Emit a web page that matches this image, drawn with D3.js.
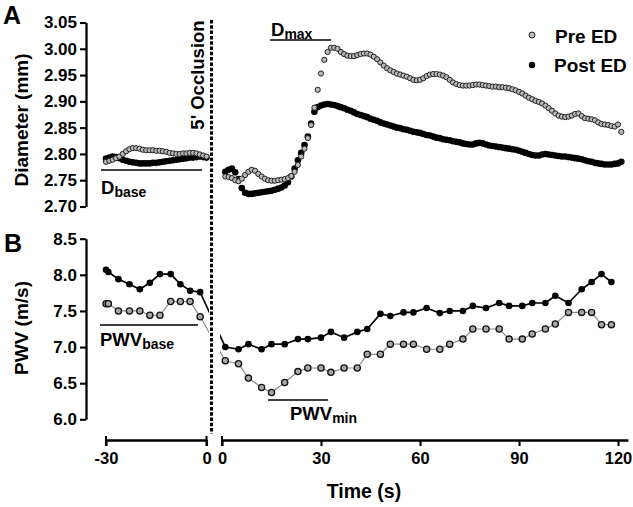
<!DOCTYPE html>
<html><head><meta charset="utf-8">
<script src="https://cdn.jsdelivr.net/npm/d3@7"></script>
<style>
body{margin:0;background:#fff}
svg{display:block}
text{font-family:"Liberation Sans",Arial,Helvetica,sans-serif;font-weight:bold;fill:#000}
</style>
</head><body>
<svg id="chart" width="633" height="507"></svg>
<script>
// ---------------- DATA ----------------
const seriesNames = ["Pre ED", "Post ED"];

// Panel A: arterial diameter (mm), baseline period (s before occlusion release)
const diamTimeBase = [-30,-29,-28,-27,-26,-25,-24,-23,-22,-21,-20,-19,-18,-17,-16,-15,-14,-13,-12,-11,-10,-9,-8,-7,-6,-5,-4,-3,-2,-1,0];
const diamPreBase  = [2.785,2.787,2.789,2.792,2.795,2.800,2.805,2.809,2.811,2.811,2.810,2.808,2.807,2.807,2.807,2.806,2.806,2.805,2.804,2.802,2.801,2.800,2.800,2.801,2.801,2.802,2.802,2.801,2.799,2.797,2.795];
const diamPostBase = [2.791,2.793,2.795,2.794,2.792,2.789,2.787,2.785,2.784,2.783,2.782,2.782,2.782,2.782,2.783,2.783,2.784,2.785,2.786,2.787,2.788,2.789,2.790,2.791,2.792,2.793,2.793,2.794,2.795,2.794,2.793];

// Panel A: diameter after cuff release
const diamTimeCuff = [1,2,3,4,5,6,7,8,9,10,11,12,13,14,15,16,17,18,19,20,21,22,23,24,25,26,27,28,29,30,31,32,33,34,35,36,37,38,39,40,41,42,43,44,45,46,47,48,49,50,51,52,53,54,55,56,57,58,59,60,61,62,63,64,65,66,67,68,69,70,71,72,73,74,75,76,77,78,79,80,81,82,83,84,85,86,87,88,89,90,91,92,93,94,95,96,97,98,99,100,101,102,103,104,105,106,107,108,109,110,111,112,113,114,115,116,117,118,119,120,121];
const diamPreCuff = [2.757,2.756,2.754,2.750,2.748,2.753,2.760,2.766,2.770,2.768,2.762,2.757,2.753,2.750,2.749,2.749,2.750,2.751,2.752,2.754,2.758,2.766,2.779,2.795,2.810,2.830,2.855,2.888,2.922,2.953,
  2.979,2.994,3.002,3.002,3.000,2.994,2.990,2.987,2.986,2.986,2.988,2.990,2.991,2.991,2.989,2.985,2.980,2.974,2.968,2.963,2.959,2.956,2.953,2.951,2.949,2.947,2.944,2.941,2.940,2.941,
  2.944,2.948,2.951,2.952,2.952,2.951,2.949,2.946,2.941,2.936,2.933,2.931,2.930,2.930,2.930,2.931,2.932,2.932,2.931,2.930,2.929,2.928,2.928,2.927,2.927,2.926,2.925,2.923,2.921,2.918,
  2.915,2.911,2.907,2.904,2.901,2.899,2.896,2.892,2.887,2.882,2.877,2.873,2.871,2.870,2.871,2.873,2.876,2.877,2.872,2.868,2.867,2.866,2.864,2.860,2.857,2.856,2.855,2.853,2.852,2.856,2.842];
const diamPostCuff = [2.766,2.770,2.772,2.765,2.752,2.735,2.726,2.724,2.724,2.725,2.726,2.727,2.728,2.729,2.730,2.732,2.734,2.736,2.740,2.746,2.757,2.772,2.788,2.802,2.817,2.833,2.858,2.880,2.889,2.892,
  2.894,2.895,2.894,2.893,2.891,2.889,2.887,2.884,2.882,2.879,2.876,2.874,2.872,2.870,2.867,2.865,2.863,2.860,2.858,2.856,2.854,2.852,2.850,2.849,2.847,2.846,2.844,2.842,2.841,2.840,
  2.838,2.836,2.835,2.833,2.831,2.830,2.828,2.827,2.826,2.824,2.823,2.822,2.820,2.819,2.818,2.818,2.820,2.821,2.820,2.818,2.816,2.815,2.814,2.813,2.812,2.811,2.810,2.809,2.808,2.806,
  2.804,2.802,2.800,2.798,2.797,2.797,2.799,2.800,2.799,2.798,2.797,2.796,2.795,2.795,2.794,2.793,2.792,2.791,2.790,2.788,2.786,2.785,2.783,2.782,2.781,2.780,2.780,2.780,2.781,2.782,2.785];

// Panel B: pulse wave velocity (m/s)
const pwvTimeBase = [-30,-29.3,-26.3,-23,-19.9,-16.9,-13.9,-10.7,-7.8,-4.9,-1.9];
const pwvPreBase  = [7.60,7.60,7.50,7.50,7.50,7.44,7.44,7.63,7.63,7.63,7.42];
const pwvPostBase = [8.07,8.04,7.94,7.87,7.80,7.89,8.01,8.01,7.87,7.78,7.76];
const pwvTimeCuff = [1,5,8,12,15,19,23,26,30,33,37,41,44,48,51,55,58,62,66,69,73,76,80,84,87,91,94,98,101,105,109,112,115,118];
const pwvPreCuff  = [6.81,6.77,6.57,6.44,6.37,6.51,6.66,6.71,6.71,6.65,6.71,6.71,6.90,6.90,7.04,7.04,7.04,6.97,6.97,7.04,7.11,7.25,7.25,7.25,7.11,7.11,7.18,7.25,7.32,7.48,7.48,7.48,7.31,7.31];
const pwvPostCuff = [7.00,6.97,7.04,6.97,7.04,7.04,7.11,7.11,7.13,7.21,7.13,7.21,7.25,7.46,7.43,7.48,7.48,7.54,7.47,7.50,7.50,7.57,7.54,7.61,7.57,7.57,7.61,7.61,7.71,7.61,7.80,7.90,8.01,7.90];

// Axis ticks
const diamTicks = [2.70,2.75,2.80,2.85,2.90,2.95,3.00,3.05];
const pwvTicks  = [6.0,6.5,7.0,7.5,8.0,8.5];
const xTicksBase = [-30,0];
const xTicksCuff = [0,30,60,90,120];

// ---------------- DRAWING ----------------
const svg = d3.select("#chart");
const xL = d3.scaleLinear().domain([-30,0]).range([106,206.5]);
const xR = d3.scaleLinear().domain([0,120]).range([222,618]);
const yA = d3.scaleLinear().domain([2.70,3.05]).range([206.5,22.5]);
const yB = d3.scaleLinear().domain([6.0,8.5]).range([419.3,238.7]);
const axisX = 86, axisY = 440;

function styleAxis(g, fontSize){
  g.select(".domain").attr("stroke","#000").attr("stroke-width",2.3);
  g.selectAll(".tick line").attr("stroke","#000").attr("stroke-width",2.1);
  g.selectAll(".tick text").attr("font-size",fontSize).attr("font-weight","bold")
    .attr("font-family","Liberation Sans, Arial, sans-serif").attr("fill","#000");
}

// Y axes
const gYA = svg.append("g").attr("transform",`translate(${axisX},0)`)
  .call(d3.axisLeft(yA).tickValues(diamTicks).tickFormat(d3.format(".2f")).tickSize(6).tickSizeOuter(0).tickPadding(3));
styleAxis(gYA,17);
const gYB = svg.append("g").attr("transform",`translate(${axisX},0)`)
  .call(d3.axisLeft(yB).tickValues(pwvTicks).tickFormat(d3.format(".1f")).tickSize(6).tickSizeOuter(0).tickPadding(3));
styleAxis(gYB,17);

// X axes (broken)
const hyphenFmt = d => String(d);
const gXL = svg.append("g").attr("transform",`translate(0,${axisY})`)
  .call(d3.axisBottom(xL).tickValues(xTicksBase).tickFormat(hyphenFmt).tickSize(6).tickSizeOuter(0).tickPadding(6));
styleAxis(gXL,16.5);
const xRaxis = d3.scaleLinear().domain([0,123]).range([xR(0),xR(123)]);
const gXR = svg.append("g").attr("transform",`translate(0,${axisY})`)
  .call(d3.axisBottom(xRaxis).tickValues(xTicksCuff).tickFormat(hyphenFmt).tickSize(6).tickSizeOuter(0).tickPadding(6));
styleAxis(gXR,16.5);
// caps at segment ends of broken axis
[xL(-30), xL(0), xR(0)].forEach(x=>{
  svg.append("line").attr("x1",x).attr("x2",x).attr("y1",axisY-4).attr("y2",axisY+6)
    .attr("stroke","#000").attr("stroke-width",2.1);
});

// Occlusion marker
svg.append("line").attr("x1",211.5).attr("x2",211.5).attr("y1",20).attr("y2",434)
  .attr("stroke","#000").attr("stroke-width",3).attr("stroke-dasharray","3.5,1.8");
svg.append("text").attr("transform","translate(204,75) rotate(-90)").attr("text-anchor","middle")
  .attr("font-size",18.5).text("5' Occlusion");

// Axis titles
svg.append("text").attr("transform","translate(28,120) rotate(-90)").attr("text-anchor","middle")
  .attr("font-size",19).text("Diameter (mm)");
svg.append("text").attr("transform","translate(28,328) rotate(-90)").attr("text-anchor","middle")
  .attr("font-size",19).text("PWV (m/s)");
svg.append("text").attr("x",364).attr("y",498).attr("text-anchor","middle")
  .attr("font-size",19.5).text("Time (s)");

// Panel letters
svg.append("text").attr("x",3).attr("y",24).attr("font-size",25).text("A");
svg.append("text").attr("x",4).attr("y",252).attr("font-size",25).text("B");

// Panel A points
const preStyle = {fill:"#b8b8b8", stroke:"#222"};
function diamPts(times, vals, sc){ return times.map((t,i)=>({x:sc(t), y:yA(vals[i])})); }
const postA = diamPts(diamTimeBase,diamPostBase,xL).concat(diamPts(diamTimeCuff,diamPostCuff,xR));
const preA  = diamPts(diamTimeBase,diamPreBase,xL).concat(diamPts(diamTimeCuff,diamPreCuff,xR));
svg.append("g").selectAll("circle").data(postA).join("circle")
  .attr("cx",d=>d.x).attr("cy",d=>d.y).attr("r",3.3).attr("fill","#000");
svg.append("g").selectAll("circle").data(preA).join("circle")
  .attr("cx",d=>d.x).attr("cy",d=>d.y).attr("r",2.6).attr("fill",preStyle.fill)
  .attr("stroke",preStyle.stroke).attr("stroke-width",1);

// Panel B lines + points
const defs = svg.append("defs");
const clip = defs.append("clipPath").attr("id","clipB");
clip.append("rect").attr("x",0).attr("y",0).attr("width",209).attr("height",507);
clip.append("rect").attr("x",220).attr("y",0).attr("width",413).attr("height",507);
function pwvPts(times, vals, sc){ return times.map((t,i)=>({x:sc(t), y:yB(vals[i])})); }
const preB  = pwvPts(pwvTimeBase,pwvPreBase,xL).concat(pwvPts(pwvTimeCuff,pwvPreCuff,xR));
const postB = pwvPts(pwvTimeBase,pwvPostBase,xL).concat(pwvPts(pwvTimeCuff,pwvPostCuff,xR));
const line = d3.line().x(d=>d.x).y(d=>d.y);
svg.append("path").attr("d",line(preB)).attr("fill","none").attr("stroke","#8a8a8a")
  .attr("stroke-width",1.2).attr("clip-path","url(#clipB)");
svg.append("path").attr("d",line(postB)).attr("fill","none").attr("stroke","#000")
  .attr("stroke-width",1.7).attr("clip-path","url(#clipB)");
svg.append("g").selectAll("circle").data(preB).join("circle")
  .attr("cx",d=>d.x).attr("cy",d=>d.y).attr("r",3.1).attr("fill","#a8a8a8")
  .attr("stroke","#111").attr("stroke-width",1.3);
svg.append("g").selectAll("circle").data(postB).join("circle")
  .attr("cx",d=>d.x).attr("cy",d=>d.y).attr("r",3.3).attr("fill","#000");

// Annotations
function annot(x1,x2,ly,tx,ty,main,sub,mainSize,subSize){
  svg.append("line").attr("x1",x1).attr("x2",x2).attr("y1",ly).attr("y2",ly)
    .attr("stroke","#000").attr("stroke-width",1.6);
  const t = svg.append("text").attr("x",tx).attr("y",ty).attr("font-size",mainSize);
  t.append("tspan").text(main);
  t.append("tspan").attr("font-size",subSize).attr("dy",3).text(sub);
}
annot(270,331,40,271,36,"D","max",18.5,14);
annot(101,202,170,101,194,"D","base",18.5,14);
annot(100,198,325,100,346,"PWV","base",18.5,14);
annot(268,328,400,290,420,"PWV","min",18.5,14);

// Legend
svg.append("circle").attr("cx",532).attr("cy",35).attr("r",3).attr("fill","#b8b8b8")
  .attr("stroke","#222").attr("stroke-width",1);
svg.append("text").attr("x",555).attr("y",43).attr("font-size",19).text(seriesNames[0]);
svg.append("circle").attr("cx",532).attr("cy",65).attr("r",3.2).attr("fill","#000");
svg.append("text").attr("x",554).attr("y",72).attr("font-size",19).text(seriesNames[1]);
</script>
</body></html>
